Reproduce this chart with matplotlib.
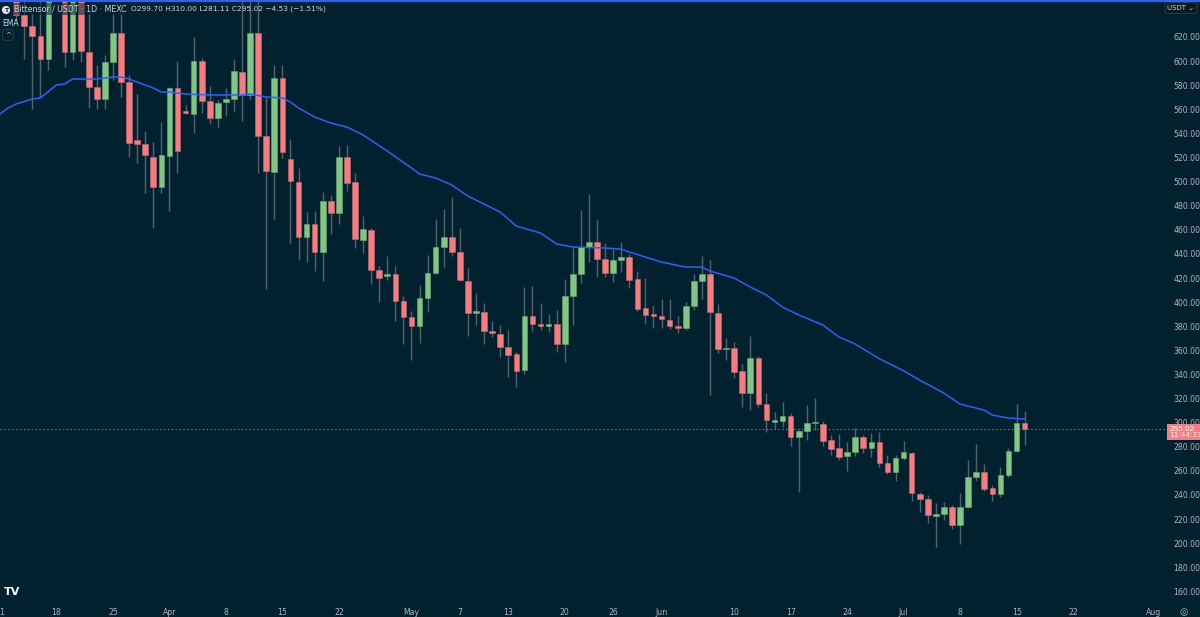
import numpy as np
import pandas as pd
import matplotlib
matplotlib.use("Agg")
import matplotlib.pyplot as plt

# --- daily OHLC, Bittensor / USDT (MEXC), 2024-03-13 .. 2024-07-16 ---
start = pd.Timestamp("2024-03-13")

opens = [660, 638.2, 629, 620.8, 601.7, 690, 700, 607.5, 662, 607.5,
         578.5, 568.5, 599.2, 623.3, 582.6, 534.5, 531.2, 520.4, 495.5, 521.2,
         577.7, 558.6, 556.1, 600.1, 566.9, 552.8, 566.1, 568.5, 590.9, 571.9,
         623.3, 537.8, 508, 586, 518.7, 499.7, 454, 464.8, 441.6, 483.9,
         474, 520.4, 499.7, 451.5, 459.8, 426.6, 421.6, 423.3, 400.9, 387.6,
         380.1, 403.4, 424.1, 445.7, 454, 441.6, 417.5, 390.9, 391.7, 376,
         373.5, 362.7, 356.9, 343.6, 388.4, 381.8, 380.1, 381.8, 365.2, 405.1,
         423.3, 445.7, 449.8, 435.7, 424.1, 434.9, 437.4, 419.1, 395, 390.1,
         388.4, 385.1, 380.1, 378.5, 396.7, 417.5, 423.3, 390.9, 361, 361.9,
         342.8, 324.5, 353.6, 315.4, 300.5, 301.3, 305.5, 288, 293, 299.4,
         298.8, 285.5, 278.9, 272.3, 275.6, 288, 278.9, 283.9, 266.4, 259,
         270.6, 274.7, 240.7, 236.6, 222.5, 224.1, 229.9, 215, 229.9, 254.8,
         259, 245.7, 240.7, 256.5, 276.4, 299.70]
highs = [672, 655, 640, 651, 705, 720, 708, 672, 668, 639.9,
         596.7, 605, 639.9, 639.9, 588.5, 572.7, 542, 532.9, 549.4, 578.5,
         600.1, 563.6, 620, 602.6, 579.3, 567.7, 577.7, 601.7, 660, 662,
         660, 570.2, 596.7, 596.7, 535.3, 511.3, 474.7, 475.6, 491.3, 488.9,
         529.5, 530.4, 507.1, 471.4, 461.5, 429.9, 438.2, 429.9, 405.1, 392.6,
         414.2, 439, 468.9, 477.2, 487.2, 461.5, 428.3, 407.5, 399.2, 384.3,
         381, 376.8, 358.5, 412.5, 413.3, 399.2, 390.1, 393.4, 419.2, 444.9,
         476.4, 489.7, 468.1, 449, 444, 449.9, 439.9, 425.8, 420, 397.6,
         402.6, 402.6, 388.4, 400.1, 423.3, 438.2, 434.9, 398.4, 370.2, 366.9,
         348.6, 371.8, 355.2, 324.5, 308.8, 317.1, 307.9, 293.8, 314.6, 320.4,
         301.3, 289.7, 290.5, 283.9, 295.5, 289.7, 291.3, 292.2, 273.1, 273.1,
         284.7, 275.6, 242.4, 239.9, 233.2, 234.1, 231.6, 241.5, 268.9, 282.2,
         265.6, 248.2, 263.1, 278.9, 315.4, 310.00]
lows = [634, 601.7, 560.2, 570.2, 592.6, 665, 595.1, 600.9, 599.2, 561,
        560.2, 560.2, 584.3, 570.2, 520.4, 515.4, 490.5, 461.5, 490.5, 475.6,
        507.1, 556, 540.3, 556.9, 547.8, 545.3, 554.4, 558.6, 550.3, 568.5,
        507.1, 410.8, 468.9, 519.6, 449, 434.9, 433.2, 425.8, 417.5, 456.5,
        464.8, 492.2, 444.9, 440.7, 415, 400.1, 418.3, 384.3, 365.2, 351.9,
        366, 391.7, 423.3, 429.1, 438.2, 417.8, 371.8, 381, 365.2, 371,
        354.4, 337.8, 329.5, 340.3, 376, 376.8, 375.1, 358.5, 350.2, 381,
        415.8, 433.2, 420.8, 420.8, 416.7, 425, 411.7, 392.6, 381.8, 378.5,
        378.5, 377.6, 374.3, 376.8, 393.4, 402.6, 322.9, 357.7, 351.9, 337,
        312.9, 310.4, 312.9, 292.2, 294.7, 296.3, 280.5, 242.3, 285.5, 293.8,
        280.5, 273.1, 268.9, 259.8, 272.3, 274.7, 271.4, 263.1, 257.3, 251.5,
        268.9, 234.9, 225.8, 216.6, 196.7, 219.1, 211.7, 199.2, 229.1, 251.5,
        243.2, 234.9, 238.2, 254.8, 275.6, 281.11]
closes = [638.2, 629, 620.8, 601.7, 690, 700, 607.5, 662, 608.4, 578.5,
          568.5, 599.2, 623.3, 582.6, 532, 531.2, 522.1, 495.5, 522.1, 577.7,
          525.4, 556.9, 600.1, 566.9, 552.8, 565.2, 568.5, 591.8, 571.9, 623.3,
          537.8, 508.8, 586, 524.5, 500.5, 454, 464.8, 441.6, 483.9, 474,
          520.4, 498.8, 452.3, 460.6, 426.6, 420, 423.3, 400.9, 387.6, 380.1,
          403.4, 424.1, 445.7, 454, 441.6, 418.3, 390.9, 392.6, 376, 374.3,
          362.7, 356, 342.8, 388.4, 381.8, 380.1, 381.8, 365.2, 405.1, 423.3,
          445.7, 449.8, 435.7, 424.1, 434.9, 437.4, 418.3, 394.2, 389.3, 388.4,
          385.9, 380.1, 378.5, 396.7, 417.5, 423.3, 391.7, 361, 361.9, 342,
          324.5, 353.6, 315.4, 302.1, 302.1, 305.5, 288, 293, 299.6, 299.9,
          284.7, 278, 271.4, 275.6, 288, 278.9, 283.9, 266.4, 259, 270.6,
          275.6, 241.5, 236.6, 223.3, 224.1, 229.9, 215, 229.9, 254.8, 259,
          244.9, 240.7, 256.5, 276.4, 299.55, 295.02]

# EMA line
ema_dates = ["2024-03-11", "2024-03-12", "2024-03-13", "2024-03-15", "2024-03-16",
             "2024-03-18", "2024-03-19", "2024-03-20", "2024-03-23", "2024-03-25",
             "2024-03-26", "2024-03-27", "2024-03-28", "2024-03-30", "2024-03-31",
             "2024-04-01", "2024-04-03", "2024-04-06", "2024-04-10", "2024-04-11",
             "2024-04-13", "2024-04-15", "2024-04-16", "2024-04-17", "2024-04-19",
             "2024-04-21", "2024-04-23", "2024-04-25", "2024-04-28", "2024-05-01",
             "2024-05-02", "2024-05-04", "2024-05-06", "2024-05-08", "2024-05-12",
             "2024-05-14", "2024-05-17", "2024-05-19", "2024-05-21", "2024-05-25",
             "2024-05-27", "2024-05-28", "2024-06-01", "2024-06-04", "2024-06-06",
             "2024-06-07", "2024-06-10", "2024-06-12", "2024-06-14", "2024-06-16",
             "2024-06-18", "2024-06-21", "2024-06-23", "2024-06-25", "2024-06-28",
             "2024-07-01", "2024-07-03", "2024-07-06", "2024-07-08", "2024-07-11",
             "2024-07-12", "2024-07-14", "2024-07-16"]
ema_values = [556.1, 561.1, 564.4, 568.5, 569.4, 580.2, 581, 585.1, 585.1, 586.8,
              586.8, 585.1, 582.6, 577.7, 574.3, 574.3, 572.7, 571.9, 571.9, 572.7,
              570.2, 569.4, 566.0, 561.1, 553.6, 548.6, 545.3, 538.7, 525.4, 511.3,
              506.3, 503, 497.2, 488, 474.7, 463.1, 457.3, 448.2, 445.7, 444.9,
              444.0, 441.6, 433.2, 429.1, 429.1, 425.8, 420, 412.5, 405.9, 395.9,
              389.3, 381, 371, 365.2, 353, 343, 335.3, 324.5, 315.4, 310.4,
              306.3, 303.8, 303]

tick_dates = ["2024-03-11", "2024-03-18", "2024-03-25", "2024-04-01", "2024-04-08",
              "2024-04-15", "2024-04-22", "2024-05-01", "2024-05-07", "2024-05-13",
              "2024-05-20", "2024-05-26", "2024-06-01", "2024-06-10", "2024-06-17",
              "2024-06-24", "2024-07-01", "2024-07-08", "2024-07-15", "2024-07-22",
              "2024-08-01"]
tick_labels = ["11", "18", "25", "Apr", "8", "15", "22", "May", "7", "13", "20", "26",
               "Jun", "10", "17", "24", "Jul", "8", "15", "22", "Aug"]

last_price = 295.02

# --- styling ---
BG = "#02212f"
UP = "#81c784"
DOWN = "#f77c80"
WICK = "#55636e"
TXT = "#b2b5be"

o = np.array(opens); h = np.array(highs); l = np.array(lows); c = np.array(closes)
x = np.arange(len(o))
up = c >= o

fig = plt.figure(figsize=(12, 6.17), dpi=100)
fig.patch.set_facecolor(BG)
ax = fig.add_axes([0, 16 / 617, 1165 / 1200, 601 / 617])
ax.set_facecolor(BG)

ax.vlines(x, l, h, color=WICK, lw=1, zorder=2)
bottoms = np.minimum(o, c)
heights = np.maximum(np.abs(c - o), 0.9)
ax.bar(x, heights, bottom=bottoms, width=0.7,
       color=np.where(up, UP, DOWN), edgecolor=np.where(up, "#6fa873", "#c96a6e"),
       lw=0.4, zorder=3)

ema_x = [(pd.Timestamp(d) - start).days for d in ema_dates]
ax.plot(ema_x, ema_values, color="#2962ff", lw=1.1, zorder=4)

ax.axhline(last_price, color="#6b7580", lw=0.8, ls=(0, (1.5, 2)), zorder=1)

ax.set_xlim(-1.98, 142.4)
ax.set_ylim(152, 650.7)

for s in ax.spines.values():
    s.set_visible(False)

ax.yaxis.tick_right()
yt = np.arange(160, 621, 20)
ax.set_yticks(yt)
ax.set_yticklabels([f"{v:.2f}" for v in yt])
ax.tick_params(axis="y", length=0, pad=6, labelsize=5.6, labelcolor=TXT)

xt = [(pd.Timestamp(d) - start).days for d in tick_dates]
ax.set_xticks(xt)
ax.set_xticklabels(tick_labels)
ax.tick_params(axis="x", length=0, pad=5, labelsize=5.6, labelcolor=TXT)

# top border
fig.add_artist(plt.Line2D([0, 1], [0.999, 0.999], color="#2962ff", lw=1.5,
                          transform=fig.transFigure))

# header
fig.text(14 / 1200, 1 - 9 / 617, "Bittensor / USDT · 1D · MEXC", color="#d1d4dc",
         fontsize=5.7, va="center", ha="left",
         bbox=dict(boxstyle="square,pad=0.15", fc=BG, ec="none", alpha=0.55))
fig.text(131 / 1200, 1 - 9 / 617, "O299.70 H310.00 L281.11 C295.02 −4.53 (−1.51%)",
         color="#d1d4dc", fontsize=5.4, va="center", ha="left")
fig.text(6 / 1200, 1 - 10 / 617, "T", color=BG, fontsize=4.5, fontweight="bold",
         va="center", ha="center",
         bbox=dict(boxstyle="circle,pad=0.25", fc="#e0e3eb", ec="none"))
fig.text(2 / 1200, 1 - 23 / 617, "EMA", color="#d1d4dc", fontsize=5.5,
         va="center", ha="left")
fig.text(8 / 1200, 1 - 35 / 617, "^", color="#d1d4dc", fontsize=5,
         va="center", ha="center",
         bbox=dict(boxstyle="round,pad=0.35", fc=BG, ec="#2a3a45", lw=0.8))

# currency box top right
fig.text(1181 / 1200, 1 - 8 / 617, "USDT ⌄", color="#d1d4dc", fontsize=5,
         va="center", ha="center",
         bbox=dict(boxstyle="round,pad=0.35", fc="#0a1820", ec="#2a3a45", lw=0.8))

# last price label
fig.text(1169 / 1200, 1 - 432 / 617, "295.02\n11:44:23", color="white", fontsize=5.2,
         va="center", ha="left", linespacing=1.0,
         bbox=dict(boxstyle="square,pad=0.3", fc=DOWN, ec="none"))

# logo and settings icon
fig.text(4 / 1200, 1 - 592 / 617, "TV", color="white", fontsize=8, fontweight="heavy",
         va="center", ha="left")
fig.text(1184 / 1200, 1 - 612 / 617, "◎", color=TXT, fontsize=7,
         va="center", ha="center")

fig.savefig("out.png", dpi=100, facecolor=BG)
